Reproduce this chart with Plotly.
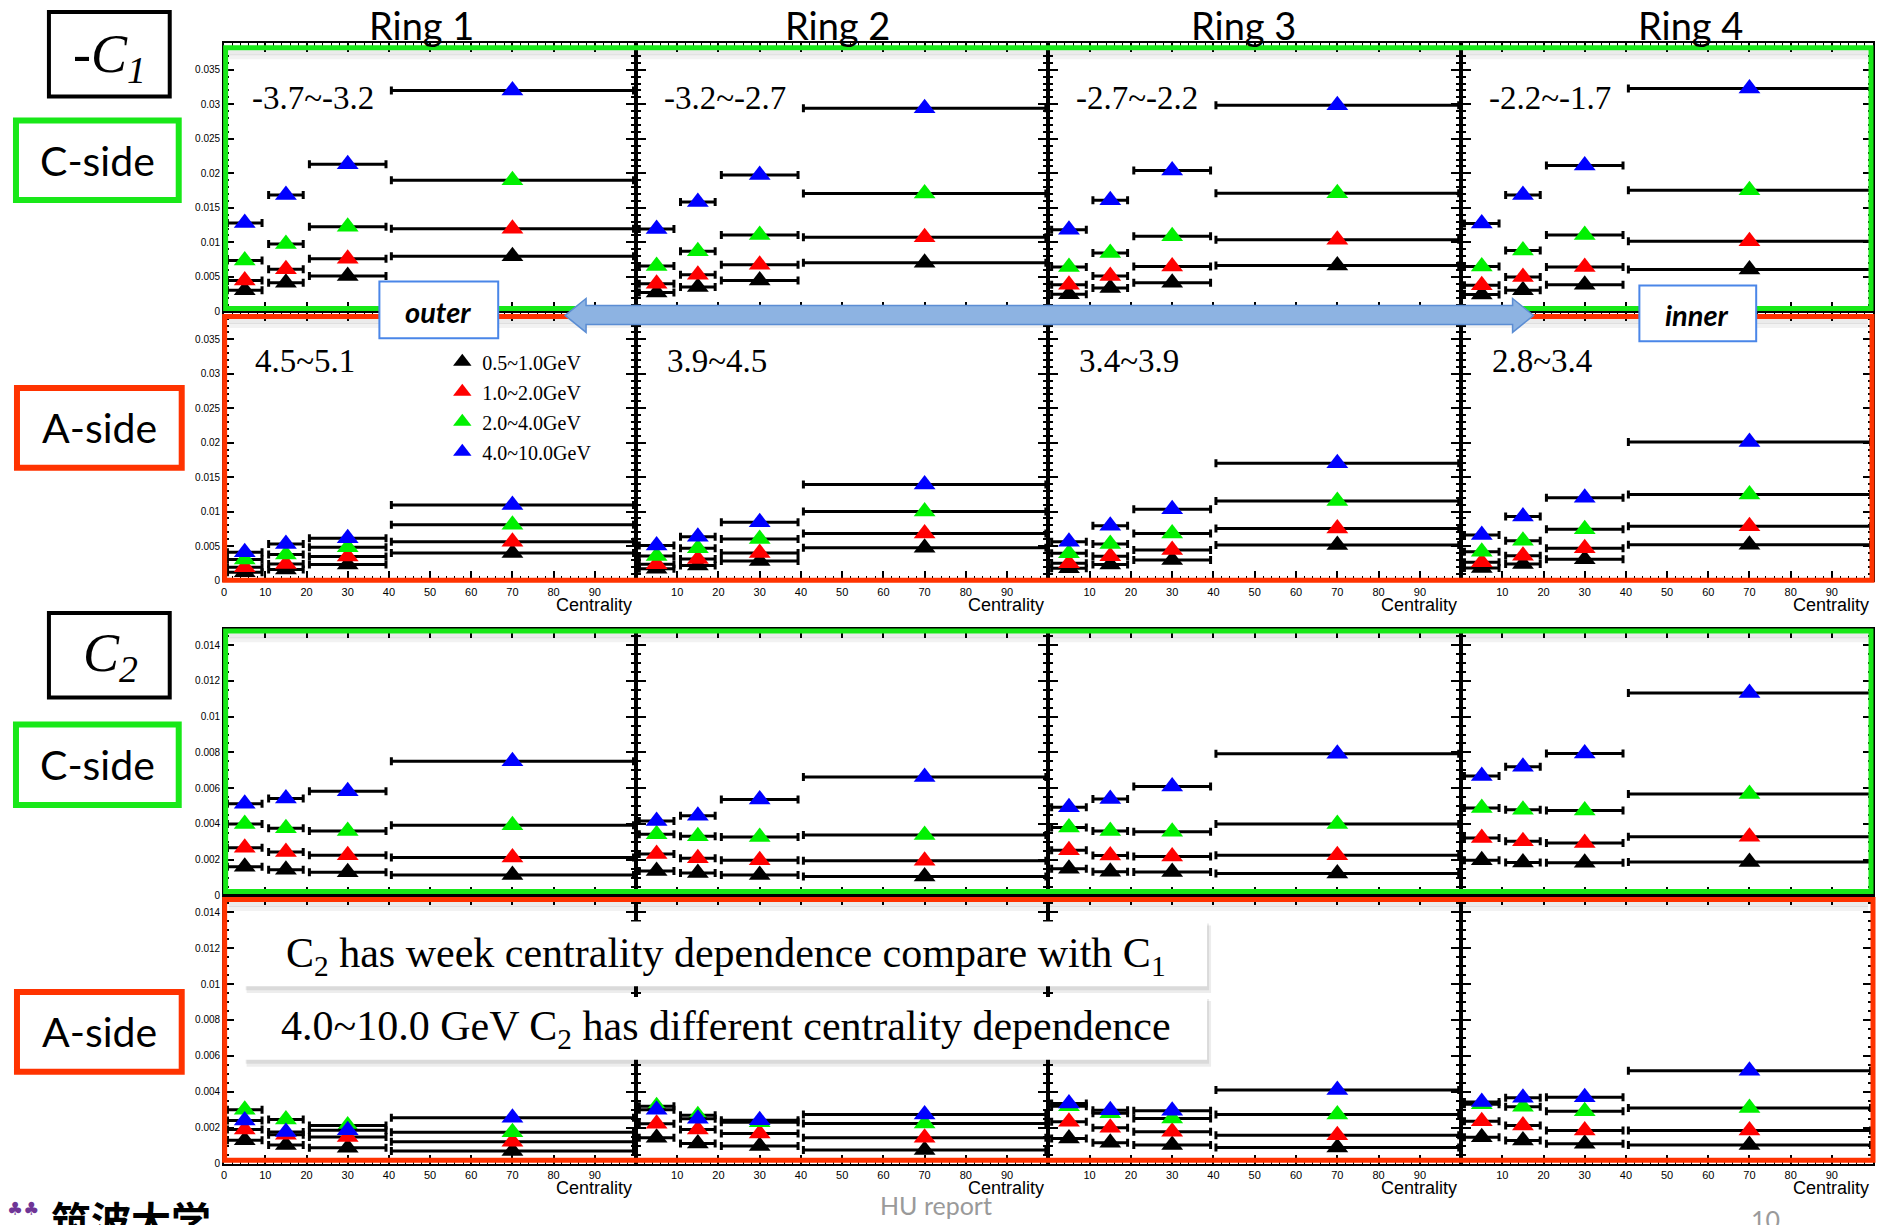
import plotly.graph_objects as go

W, H = 1878, 1225

# ---------------- data ----------------
CENTRALITY = [5, 15, 30, 70]
CENTRALITY_HALF = [4.2, 4.2, 9.3, 29.4]
PT_LABELS = ["0.5~1.0GeV", "1.0~2.0GeV", "2.0~4.0GeV", "4.0~10.0GeV"]
RING_TITLES = ["Ring 1", "Ring 2", "Ring 3", "Ring 4"]
ETA_CSIDE = ["-3.7~-3.2", "-3.2~-2.7", "-2.7~-2.2", "-2.2~-1.7"]
ETA_ASIDE = ["4.5~5.1", "3.9~4.5", "3.4~3.9", "2.8~3.4"]
X_TICKS = [0, 10, 20, 30, 40, 50, 60, 70, 80, 90]

# -C1, C-side: one list per ring, values at centrality 5, 15, 30, 70
C1_C_BLACK = [[0.00306, 0.00417, 0.00513, 0.0080], [0.00273, 0.00355, 0.0045, 0.00705],
              [0.00249, 0.00341, 0.00417, 0.00666], [0.00244, 0.00306, 0.00388, 0.00608]]
C1_C_RED = [[0.0045, 0.0061, 0.00762, 0.01198], [0.00403, 0.00532, 0.00676, 0.01074],
            [0.00388, 0.00513, 0.00651, 0.0104], [0.00379, 0.00499, 0.00643, 0.01017]]
C1_C_GREEN = [[0.00738, 0.00978, 0.01227, 0.0190], [0.00657, 0.00873, 0.01107, 0.01707],
              [0.00643, 0.00848, 0.01089, 0.01711], [0.00651, 0.00882, 0.01107, 0.01754]]
C1_C_BLUE = [[0.0128, 0.01687, 0.0213, 0.0320], [0.01194, 0.01586, 0.01975, 0.02944],
             [0.01184, 0.0161, 0.0204, 0.02987], [0.01275, 0.01687, 0.02114, 0.0323]]

# -C1, A-side
C1_A_BLACK = [[0.0012, 0.00159, 0.00231, 0.00398], [0.00168, 0.00216, 0.00283, 0.00476],
              [0.00177, 0.00231, 0.00297, 0.00514], [0.00182, 0.0024, 0.00307, 0.00519]]
C1_A_RED = [[0.00192, 0.0024, 0.00346, 0.00562], [0.00235, 0.00312, 0.00398, 0.00682],
            [0.0025, 0.0035, 0.00442, 0.00754], [0.00264, 0.0036, 0.00466, 0.00788]]
C1_A_GREEN = [[0.00303, 0.00375, 0.0048, 0.00808], [0.00355, 0.00466, 0.0060, 0.0100],
              [0.00394, 0.00528, 0.00682, 0.01154], [0.00418, 0.00577, 0.00744, 0.01249]]
C1_A_BLUE = [[0.00408, 0.00528, 0.00614, 0.01096], [0.00509, 0.00635, 0.00846, 0.01394],
             [0.00562, 0.00793, 0.01033, 0.0170], [0.00658, 0.00927, 0.01202, 0.0201]]

# C2, C-side
C2_C_BLACK = [[0.00161, 0.00144, 0.0013, 0.00115], [0.00137, 0.00126, 0.00115, 0.00107],
              [0.0015, 0.00133, 0.00132, 0.00124], [0.00198, 0.00185, 0.00183, 0.00187]]
C2_C_RED = [[0.00267, 0.00244, 0.00226, 0.00213], [0.00232, 0.00209, 0.00198, 0.00194],
            [0.00254, 0.00224, 0.00218, 0.00226], [0.00322, 0.00304, 0.00294, 0.00329]]
C2_C_GREEN = [[0.0040, 0.00376, 0.00361, 0.00393], [0.00343, 0.00332, 0.00328, 0.00339],
              [0.0038, 0.00361, 0.00357, 0.0040], [0.00489, 0.0048, 0.00476, 0.00567]]
C2_C_BLUE = [[0.00513, 0.00543, 0.00583, 0.0075], [0.00417, 0.00446, 0.00537, 0.00663],
             [0.00494, 0.00539, 0.0061, 0.00793], [0.00668, 0.0072, 0.00794, 0.01132]]

# C2, A-side
C2_A_BLACK = [[0.0013, 0.00104, 0.00088, 0.0007], [0.00144, 0.00112, 0.00098, 0.00075],
              [0.0014, 0.00116, 0.00103, 0.00089], [0.00147, 0.00129, 0.00111, 0.00103]]
C2_A_RED = [[0.0019, 0.0016, 0.00148, 0.00122], [0.00222, 0.0019, 0.00168, 0.00144],
            [0.00233, 0.0020, 0.00177, 0.00158], [0.00236, 0.00212, 0.00184, 0.00184]]
C2_A_GREEN = [[0.0030, 0.00245, 0.00212, 0.00175], [0.0032, 0.00269, 0.0023, 0.00223],
              [0.0032, 0.0028, 0.00251, 0.00273], [0.0033, 0.00316, 0.00291, 0.0031]]
C2_A_BLUE = [[0.0024, 0.00176, 0.00186, 0.00255], [0.0030, 0.00249, 0.00241, 0.00273],
             [0.00334, 0.00297, 0.00294, 0.0041], [0.00343, 0.00366, 0.00369, 0.00517]]

PANEL_ROWS = [
    (C1_C_BLACK, C1_C_RED, C1_C_GREEN, C1_C_BLUE),
    (C1_A_BLACK, C1_A_RED, C1_A_GREEN, C1_A_BLUE),
    (C2_C_BLACK, C2_C_RED, C2_C_GREEN, C2_C_BLUE),
    (C2_A_BLACK, C2_A_RED, C2_A_GREEN, C2_A_BLUE),
]

# ---------------- layout geometry (pixels) ----------------
SERIES_COLORS = ["#000000", "#ff0000", "#00f000", "#0000ff"]
COL_PX = [221.5, 634, 1047, 1460.5, 1873]
ROW_PX = [(43, 313), (314, 583.3), (632, 900), (900.5, 1169.3)]
YMAX = [0.0389, 0.0389, 0.0149, 0.0149]
YDT = [0.005, 0.005, 0.002, 0.002]
YMINOR = [0.001, 0.001, 0.0005, 0.0005]
GREEN = "#18e818"
RED = "#ff3300"
AXFONT = "Liberation Sans"


def px(x):
    return x / W


def py(y):
    return 1 - y / H


fig = go.Figure()
layout = {}
for r in range(4):
    for c in range(4):
        k = r * 4 + c + 1
        sfx = "" if k == 1 else str(k)
        for s in range(4):
            fig.add_trace(go.Scatter(
                x=CENTRALITY, y=PANEL_ROWS[r][s][c], mode="markers",
                xaxis="x" + sfx, yaxis="y" + sfx,
                name=PT_LABELS[s], legendgroup=PT_LABELS[s],
                showlegend=(r == 1 and c == 0),
                marker=dict(symbol="triangle-up", size=19, color=SERIES_COLORS[s],
                            line=dict(width=0)),
                error_x=dict(type="data", array=CENTRALITY_HALF, symmetric=True,
                             color="black", thickness=3, width=4),
                hoverinfo="skip",
            ))
        xt = [str(v) if (c == 0 or v != 0) else "" for v in X_TICKS]
        layout["xaxis" + sfx] = dict(
            domain=[px(COL_PX[c]), px(COL_PX[c + 1])], range=[0, 100],
            anchor="y" + sfx, showgrid=False, zeroline=False,
            showline=True, linecolor="black", linewidth=2, mirror="allticks",
            ticks="inside", ticklen=9, tickwidth=2, tickcolor="black",
            tickmode="array", tickvals=X_TICKS, ticktext=xt,
            showticklabels=(r in (1, 3)),
            tickfont=dict(family=AXFONT, size=11, color="black"),
            minor=dict(tickmode="linear", tick0=0, dtick=2, ticks="inside",
                       ticklen=4, tickwidth=1, tickcolor="black"),
        )
        layout["yaxis" + sfx] = dict(
            domain=[py(ROW_PX[r][1]), py(ROW_PX[r][0])], range=[0, YMAX[r]],
            anchor="x" + sfx, showgrid=False, zeroline=False,
            showline=True, linecolor="black", linewidth=2, mirror="allticks",
            ticks="inside", ticklen=10, tickwidth=2, tickcolor="black",
            tickmode="linear", tick0=0, dtick=YDT[r],
            showticklabels=(c == 0),
            tickfont=dict(family=AXFONT, size=10, color="black"),
            minor=dict(tickmode="linear", tick0=0, dtick=YMINOR[r], ticks="inside",
                       ticklen=5, tickwidth=1.5, tickcolor="black"),
        )

fig.update_layout(**layout)


def rect(x0, y0, x1, y1, **kw):
    return dict(type="rect", xref="paper", yref="paper",
                x0=px(x0), x1=px(x1), y0=py(y1), y1=py(y0), **kw)


def ann(text, x, y, size, family, color="black", xanchor="center", yanchor="middle"):
    return dict(text=text, x=px(x), y=py(y), xref="paper", yref="paper",
                showarrow=False, xanchor=xanchor, yanchor=yanchor,
                font=dict(size=size, family=family, color=color))


shapes = []
annotations = []

# soft shadows below the top edges of coloured frames
for (y0, col) in [(48, GREEN), (318, RED), (634, GREEN), (904, RED)]:
    for off, alpha in ((5, 0.08), (9, 0.05)):
        shapes.append(dict(type="line", xref="paper", yref="paper",
                           x0=px(226), x1=px(1868), y0=py(y0 + off), y1=py(y0 + off),
                           line=dict(color=f"rgba(0,0,0,{alpha})", width=5)))

# coloured frames around the plot rows
shapes.append(rect(223, 48, 1871, 310, line=dict(color=GREEN, width=5)))
shapes.append(rect(222, 318, 1872, 583, line=dict(color=RED, width=5)))
shapes.append(rect(223, 634, 1871, 896, line=dict(color=GREEN, width=5)))
shapes.append(rect(222, 904, 1873, 1166, line=dict(color=RED, width=5)))

# left label boxes
shapes.append(rect(46, 12, 167, 97, line=dict(color="black", width=4), fillcolor="white"))
shapes.append(rect(13, 121, 176, 201, line=dict(color=GREEN, width=6), fillcolor="white"))
shapes.append(rect(14, 390, 179, 470, line=dict(color=RED, width=6), fillcolor="white"))
shapes.append(rect(46, 616, 167, 701, line=dict(color="black", width=4), fillcolor="white"))
shapes.append(rect(13, 728, 176, 809, line=dict(color=GREEN, width=6), fillcolor="white"))
shapes.append(rect(14, 997, 179, 1077, line=dict(color=RED, width=6), fillcolor="white"))

# double arrow outer <-> inner
arrow_pts = [(563, 317), (584, 300), (584, 307), (1512, 307), (1512, 300), (1533, 317),
             (1512, 334), (1512, 326), (584, 326), (584, 334)]
path = "M " + " L ".join(f"{px(a):.5f},{py(b):.5f}" for a, b in arrow_pts) + " Z"
shapes.append(dict(type="path", xref="paper", yref="paper", path=path,
                   fillcolor="#8db3e2", line=dict(color="#5b8dd3", width=1.5)))

# outer / inner boxes
shapes.append(rect(377, 283, 496, 340, line=dict(color="#4a86e8", width=2), fillcolor="white"))
shapes.append(rect(1639, 287, 1756, 343, line=dict(color="#4a86e8", width=2), fillcolor="white"))

# comment text boxes with soft shadows
for (y0, y1) in ((926, 991), (1002, 1065)):
    shapes.append(rect(244, y0 + 4, 1210, y1 + 7, line=dict(width=0),
                       fillcolor="rgba(0,0,0,0.07)"))
    shapes.append(rect(243, y0 + 2, 1208, y1 + 4, line=dict(width=0),
                       fillcolor="rgba(0,0,0,0.08)"))
    shapes.append(rect(242, y0, 1206, y1, line=dict(width=0), fillcolor="white"))

# ring titles
RING_X = [419, 836, 1242, 1690]
for i, t in enumerate(RING_TITLES):
    annotations.append(ann(t, RING_X[i], 25, 38, "Lato"))

# eta ranges
for c in range(4):
    annotations.append(ann(ETA_CSIDE[c], COL_PX[c] + 26, 98, 33, "Liberation Serif",
                           xanchor="left"))
    annotations.append(ann(ETA_ASIDE[c], COL_PX[c] + 29, 363, 33, "Liberation Serif",
                           xanchor="left"))

# Centrality axis titles
for c in range(4):
    for yy in (608, 1194):
        annotations.append(ann("Centrality", COL_PX[c + 1] - 2, yy, 18,
                               "Liberation Sans Narrow, Arial Narrow, Liberation Sans",
                               xanchor="right"))

# left labels
annotations.append(ann("-<i>C</i><sub><i>1</i></sub>", 107, 58, 54, "Liberation Serif"))
annotations.append(ann("<i>C</i><sub><i>2</i></sub>", 108, 660, 54, "Liberation Serif"))
for yy in (161, 768):
    annotations.append(ann("C-side", 95, yy, 41, "Lato"))
for yy in (430, 1037):
    annotations.append(ann("A-side", 97, yy, 41, "Lato"))

annotations.append(ann("<b><i>outer</i></b>", 436, 313, 29, "Lato"))
annotations.append(ann("<b><i>inner</i></b>", 1697, 316, 29, "Lato"))

annotations.append(ann("C<sub>2</sub> has week centrality dependence compare with C<sub>1</sub>",
                       724, 961, 42, "Liberation Serif"))
annotations.append(ann("4.0~10.0 GeV C<sub>2</sub> has different centrality dependence",
                       724, 1034, 42, "Liberation Serif"))

# footer
annotations.append(ann("HU report", 934, 1211, 25, "Lato", color="#9a9a9a"))
annotations.append(ann("10", 1765, 1208, 25, "Lato", color="#9a9a9a", yanchor="top"))
annotations.append(ann("<b>筑波大学</b>", 46, 1194, 40, "Noto Sans CJK JP",
                       xanchor="left", yanchor="top"))
annotations.append(ann("♣♣", 20, 1214, 18, "DejaVu Sans", color="#6f3596"))

fig.update_layout(
    width=W, height=H, margin=dict(l=0, r=0, t=0, b=0),
    paper_bgcolor="white", plot_bgcolor="rgba(0,0,0,0)",
    shapes=shapes, annotations=annotations,
    legend=dict(x=px(440), y=py(344), xanchor="left", yanchor="top",
                bgcolor="rgba(0,0,0,0)", borderwidth=0,
                font=dict(family="Liberation Serif", size=20, color="black"),
                tracegroupgap=1, itemsizing="trace"),
    showlegend=True,
)

fig.write_html("out.html")
